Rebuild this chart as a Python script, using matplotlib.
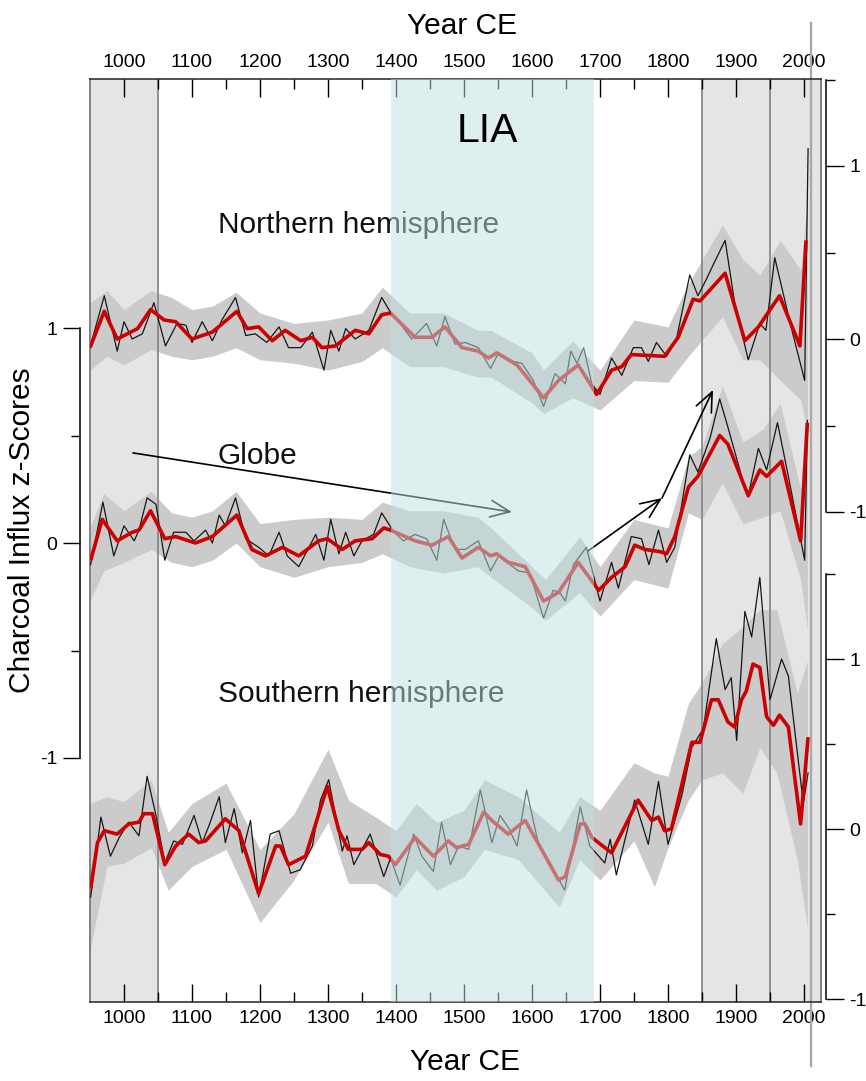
import matplotlib
matplotlib.use('Agg')
import matplotlib.pyplot as plt
import matplotlib.transforms as mtransforms

plt.rcParams['font.family'] = ['Liberation Sans', 'DejaVu Sans']
plt.rcParams['axes.unicode_minus'] = False

# ---------------- data ----------------
# Northern hemisphere (right upper axis, z-scores)
nh_red_years = [950, 971, 990, 1020, 1039, 1059, 1076, 1100, 1130, 1166, 1181, 1198, 1218, 1237, 1260, 1277,
                1291, 1311, 1340, 1360, 1379, 1392, 1428, 1453, 1472, 1497, 1521, 1536, 1548, 1578, 1617,
                1639, 1668, 1695, 1717, 1732, 1746, 1795, 1815, 1837, 1847, 1884, 1913, 1933, 1964, 1994, 2003]
nh_red = [-0.05, 0.16, 0.00, 0.06, 0.17, 0.11, 0.10, 0.00, 0.04, 0.16, 0.06, 0.07, -0.01, 0.05, -0.01, 0.01,
          -0.05, -0.04, 0.05, 0.03, 0.14, 0.15, 0.01, 0.01, 0.07, -0.05, -0.07, -0.11, -0.08, -0.15, -0.34,
          -0.24, -0.15, -0.32, -0.18, -0.16, -0.09, -0.10, 0.01, 0.23, 0.22, 0.38, -0.01, 0.07, 0.25, -0.04, 0.57]
nh_blk_years = [950, 971, 990, 1000, 1012, 1027, 1044, 1061, 1078, 1091, 1100, 1115, 1130, 1144, 1164, 1179,
                1193, 1210, 1228, 1242, 1260, 1277, 1294, 1304, 1316, 1326, 1340, 1360, 1379, 1394, 1406, 1423,
                1445, 1460, 1472, 1487, 1502, 1521, 1539, 1551, 1573, 1585, 1602, 1617, 1634, 1649, 1657, 1666,
                1676, 1688, 1700, 1717, 1732, 1749, 1761, 1771, 1783, 1798, 1813, 1832, 1844, 1857, 1869, 1884,
                1898, 1918, 1935, 1944, 1957, 1981, 2001, 2006]
nh_blk = [-0.05, 0.25, -0.07, 0.10, 0.00, 0.03, 0.21, -0.04, 0.09, 0.08, -0.02, 0.10, -0.01, 0.11, 0.24, 0.02,
          0.03, -0.02, 0.07, -0.05, -0.05, 0.04, -0.18, 0.05, -0.07, 0.06, 0.00, 0.05, 0.24, 0.14, 0.09, 0.00,
          0.09, -0.04, 0.13, -0.03, -0.02, -0.05, -0.17, -0.08, -0.13, -0.14, -0.24, -0.39, -0.20, -0.26, -0.07, -0.14,
          -0.05, -0.26, -0.32, -0.11, -0.21, -0.05, -0.05, -0.13, -0.02, -0.10, 0.01, 0.37, 0.25, 0.35, 0.45, 0.57,
          0.21, -0.12, 0.09, 0.05, 0.47, 0.07, -0.24, 1.10]
nh_env_years = [950, 975, 1000, 1040, 1070, 1100, 1130, 1165, 1200, 1250, 1300, 1350, 1380, 1420, 1470, 1520,
                1540, 1600, 1617, 1660, 1700, 1750, 1800, 1830, 1880, 1910, 1935, 1965, 1995, 2005]
nh_env_lo = [-0.18, -0.10, -0.15, -0.06, -0.10, -0.12, -0.10, -0.05, -0.12, -0.14, -0.18, -0.13, -0.05, -0.16,
             -0.16, -0.22, -0.22, -0.37, -0.43, -0.34, -0.41, -0.24, -0.25, -0.10, 0.13, -0.12, -0.12, -0.24,
             -0.35, -0.53]
nh_env_hi = [0.21, 0.28, 0.17, 0.28, 0.24, 0.17, 0.19, 0.27, 0.15, 0.09, 0.11, 0.15, 0.30, 0.15, 0.15, 0.05,
             0.05, -0.08, -0.18, -0.01, -0.18, 0.11, 0.07, 0.32, 0.66, 0.46, 0.37, 0.57, 0.40, 0.80]

# Globe (left axis, z-scores)
gl_red_years = [951, 968, 990, 1012, 1022, 1039, 1060, 1076, 1105, 1130, 1166, 1188, 1208, 1233, 1257, 1286,
                1299, 1321, 1340, 1365, 1382, 1392, 1428, 1453, 1477, 1497, 1521, 1539, 1548, 1565, 1590, 1617,
                1639, 1668, 1698, 1717, 1737, 1751, 1766, 1788, 1798, 1810, 1830, 1844, 1876, 1888, 1918, 1935,
                1945, 1967, 1995, 2005]
gl_red = [-0.08, 0.11, 0.01, 0.05, 0.06, 0.15, 0.02, 0.03, 0.00, 0.03, 0.13, -0.03, -0.06, -0.02, -0.06, 0.01,
          0.02, -0.03, 0.01, 0.02, 0.07, 0.06, 0.01, -0.01, 0.03, -0.07, -0.02, -0.06, -0.05, -0.09, -0.11, -0.27,
          -0.23, -0.09, -0.22, -0.16, -0.11, -0.01, -0.03, -0.04, -0.05, 0.03, 0.26, 0.31, 0.50, 0.46, 0.22, 0.34,
          0.31, 0.38, 0.01, 0.56]
gl_blk_years = [951, 969, 985, 1000, 1015, 1022, 1034, 1047, 1060, 1073, 1091, 1103, 1120, 1130, 1140, 1149,
                1164, 1179, 1198, 1213, 1228, 1240, 1257, 1282, 1294, 1304, 1316, 1326, 1338, 1350, 1367, 1379,
                1397, 1411, 1428, 1445, 1460, 1470, 1487, 1502, 1521, 1539, 1551, 1580, 1597, 1617, 1631, 1641,
                1649, 1661, 1680, 1700, 1717, 1727, 1746, 1761, 1772, 1786, 1798, 1810, 1832, 1844, 1862, 1876,
                1888, 1910, 1918, 1933, 1945, 1961, 1977, 2001, 2005]
gl_blk = [-0.10, 0.19, -0.06, 0.08, 0.01, 0.06, 0.21, 0.18, -0.08, 0.05, 0.05, 0.01, 0.06, 0.00, 0.13, 0.08,
          0.21, 0.02, -0.02, -0.06, 0.05, -0.06, -0.11, 0.04, -0.08, 0.11, -0.05, 0.05, -0.06, 0.01, 0.04, 0.14,
          0.05, 0.01, 0.04, 0.02, -0.08, 0.11, -0.03, -0.03, 0.01, -0.13, -0.06, -0.13, -0.14, -0.35, -0.22, -0.23,
          -0.27, -0.10, -0.02, -0.27, -0.09, -0.21, 0.03, 0.02, -0.10, 0.06, -0.09, -0.02, 0.41, 0.33, 0.49, 0.67,
          0.54, 0.29, 0.22, 0.44, 0.34, 0.56, 0.31, -0.08, 0.57]
gl_env_years = [950, 970, 1000, 1040, 1070, 1100, 1130, 1165, 1200, 1250, 1300, 1350, 1380, 1420, 1470, 1520,
                1540, 1600, 1620, 1670, 1700, 1750, 1800, 1830, 1850, 1880, 1910, 1940, 1965, 1995, 2005]
gl_env_lo = [-0.27, -0.13, -0.09, -0.03, -0.09, -0.11, -0.08, 0.00, -0.11, -0.16, -0.11, -0.09, -0.05, -0.11,
             -0.14, -0.11, -0.16, -0.30, -0.36, -0.23, -0.34, -0.17, -0.21, 0.14, 0.11, 0.28, 0.09, 0.12, 0.15,
             -0.17, -0.40]
gl_env_hi = [0.07, 0.23, 0.15, 0.24, 0.14, 0.12, 0.15, 0.24, 0.09, 0.11, 0.12, 0.11, 0.19, 0.15, 0.15, 0.12,
             0.07, -0.11, -0.17, 0.03, -0.11, 0.11, 0.07, 0.40, 0.45, 0.73, 0.47, 0.53, 0.65, 0.25, 0.75]

# Southern hemisphere (right lower axis, z-scores)
sh_red_years = [951, 961, 971, 990, 1007, 1022, 1029, 1042, 1060, 1076, 1095, 1110, 1120, 1149, 1169, 1198,
                1223, 1230, 1242, 1267, 1299, 1316, 1330, 1350, 1360, 1377, 1389, 1399, 1428, 1455, 1477, 1489,
                1507, 1529, 1541, 1565, 1590, 1614, 1639, 1649, 1671, 1678, 1688, 1717, 1756, 1776, 1786, 1795,
                1805, 1835, 1847, 1864, 1874, 1888, 1898, 1908, 1915, 1925, 1935, 1945, 1955, 1964, 1977, 1995, 2006]
sh_red = [-0.35, -0.08, -0.01, -0.03, 0.03, 0.04, 0.09, 0.09, -0.21, -0.10, -0.03, -0.08, -0.07, 0.06, -0.01, -0.38,
          -0.10, -0.10, -0.21, -0.16, 0.25, -0.01, -0.12, -0.12, -0.08, -0.15, -0.16, -0.21, -0.05, -0.16, -0.07, -0.11,
          -0.09, 0.10, 0.05, -0.03, 0.05, -0.12, -0.30, -0.28, 0.03, 0.03, -0.05, -0.14, 0.17, 0.05, 0.07, -0.01,
          0.00, 0.51, 0.51, 0.76, 0.76, 0.63, 0.60, 0.76, 0.81, 0.97, 0.95, 0.66, 0.61, 0.67, 0.60, 0.03, 0.54]
sh_blk_years = [951, 966, 980, 993, 1007, 1022, 1034, 1047, 1060, 1073, 1086, 1103, 1115, 1125, 1140, 1149,
                1162, 1174, 1186, 1198, 1215, 1228, 1245, 1259, 1277, 1289, 1301, 1321, 1328, 1338, 1362, 1382,
                1392, 1406, 1426, 1438, 1455, 1467, 1480, 1492, 1507, 1524, 1541, 1553, 1565, 1578, 1592, 1609,
                1629, 1648, 1671, 1685, 1707, 1715, 1724, 1751, 1771, 1786, 1800, 1820, 1835, 1852, 1871, 1884,
                1893, 1901, 1913, 1923, 1935, 1950, 1967, 1977, 1999, 2006]
sh_blk = [-0.40, 0.07, -0.16, -0.05, 0.04, -0.04, 0.31, 0.08, -0.20, -0.07, -0.09, 0.08, -0.08, 0.02, 0.19, -0.08,
          0.12, -0.14, 0.05, -0.40, -0.03, -0.01, -0.26, -0.24, -0.10, 0.17, 0.29, -0.13, -0.04, -0.21, -0.03, -0.28,
          -0.17, -0.33, -0.03, -0.16, -0.25, 0.04, -0.21, -0.10, -0.12, 0.23, -0.08, 0.08, 0.01, -0.10, 0.23, -0.08,
          -0.22, -0.36, 0.13, -0.10, -0.20, -0.06, -0.27, 0.17, -0.09, 0.28, -0.09, 0.19, 0.48, 0.59, 1.12, 0.82,
          0.89, 0.52, 1.28, 1.13, 1.48, 0.76, 1.00, 0.90, 0.15, 0.33]
sh_env_years = [950, 975, 1000, 1040, 1065, 1100, 1150, 1200, 1250, 1300, 1330, 1370, 1400, 1430, 1460, 1500,
                1530, 1580, 1640, 1670, 1700, 1750, 1780, 1800, 1830, 1850, 1880, 1910, 1935, 1960, 1990, 2005]
sh_env_lo = [-0.71, -0.22, -0.20, -0.11, -0.36, -0.22, -0.12, -0.55, -0.30, 0.04, -0.32, -0.32, -0.40, -0.24,
             -0.36, -0.28, -0.12, -0.18, -0.46, -0.18, -0.30, -0.07, -0.34, -0.11, 0.17, 0.29, 0.33, 0.21, 0.48,
             0.33, -0.18, -0.58]
sh_env_hi = [0.15, 0.19, 0.16, 0.29, -0.02, 0.15, 0.27, -0.12, 0.09, 0.47, 0.17, 0.07, -0.01, 0.15, 0.04, 0.11,
             0.29, 0.19, -0.02, 0.19, 0.11, 0.39, 0.33, 0.31, 0.74, 0.86, 1.09, 1.19, 1.29, 1.29, 0.80, 0.99]

# periods
early_band = (950, 1050)
lia_band = (1392, 1691)
modern_band = (1850, 2025)
period_lines = [1050, 1850, 1950]
plume_year = 2011

year_ticks = list(range(1000, 2001, 100))
year_minor = list(range(1050, 2000, 100))

# ---------------- layout ----------------
W, H = 866, 1081
fig = plt.figure(figsize=(W / 100, H / 100), dpi=100)
Lp, Rp, Tp, Bp = 90, 821, 79, 1002
ax = fig.add_axes([Lp / W, 1 - Bp / H, (Rp - Lp) / W, (Bp - Tp) / H])
ax.set_xlim(950, 2025)
ax.set_ylim((543 - Bp) / 215, (543 - Tp) / 215)
ax_nh = ax.twinx()
ax_nh.set_ylim((339 - Bp) / 173, (339 - Tp) / 173)
ax_sh = ax.twinx()
ax_sh.set_ylim((829 - Bp) / 170, (829 - Tp) / 170)

# backgrounds
ax.axvspan(*early_band, color='#e5e5e5', lw=0, zorder=0)
ax.axvspan(*modern_band, color='#e5e5e5', lw=0, zorder=0)
for yr in period_lines:
    ax.axvline(yr, color='#8a8a8a', lw=1.3, zorder=1.5)
ax.axvline(950, color='#7a7a7a', lw=1.3, zorder=1.5, clip_on=False)
ax.axvline(2025, color='#7a7a7a', lw=1.3, zorder=1.5, clip_on=False)
blend = mtransforms.blended_transform_factory(ax.transData, ax.transAxes)
ax.plot([plume_year, plume_year], [(Bp - 23) / (Bp - Tp), (Bp - 1066) / (Bp - Tp)],
        color='#a9a9a9', lw=1.7, transform=blend, clip_on=False, zorder=2)


def draw(target, ey, lo, hi, by, bv, ry, rv):
    tr = target.transData
    ax.fill_between(ey, lo, hi, color='#cbcbcb', lw=0, transform=tr, zorder=1)
    ax.plot(by, bv, color='#161616', lw=0.9, transform=tr, zorder=3)
    ax.plot(ry, rv, color='#cc0000', lw=2.6, transform=tr, zorder=4,
            solid_joinstyle='round', solid_capstyle='butt')


draw(ax_nh, nh_env_years, nh_env_lo, nh_env_hi, nh_blk_years, nh_blk, nh_red_years, nh_red)
draw(ax, gl_env_years, gl_env_lo, gl_env_hi, gl_blk_years, gl_blk, gl_red_years, gl_red)
draw(ax_sh, sh_env_years, sh_env_lo, sh_env_hi, sh_blk_years, sh_blk, sh_red_years, sh_red)

# LIA overlay
ax.axvspan(*lia_band, color=(0.756, 0.877, 0.885), alpha=0.51, lw=0, zorder=5)

# labels inside
tkw = dict(fontsize=21.5, ha='left', va='baseline', zorder=2, color='#111111')
ax.text(1138, 1.442, 'Northern hemisphere', **tkw)
ax.text(1138, 0.367, 'Globe', **tkw)
ax.text(1138, -0.740, 'Southern hemisphere', **tkw)
ax.text(1534, 1.865, 'LIA', fontsize=29.5, ha='center', va='baseline', zorder=6)

akw = dict(arrowstyle='->,head_length=1.4,head_width=0.6', color='black', lw=1.2,
           shrinkA=0, shrinkB=0, mutation_scale=10)
ax.annotate('', xy=(1570.6, 0.144), xytext=(1013.2, 0.419), arrowprops=akw, zorder=2.5)
ax.annotate('', xy=(1791.2, 0.209), xytext=(1682.4, -0.037), arrowprops=akw, zorder=2.5)
ax.annotate('', xy=(1866.2, 0.712), xytext=(1791.2, 0.209), arrowprops=akw, zorder=2.5)

# ---------------- axes styling ----------------
for s in ['top', 'bottom']:
    ax.spines[s].set_linewidth(1.1)
    ax.spines[s].set_color('#222222')
ax.spines['right'].set_visible(False)
ax.spines['left'].set_position(('outward', 7.2))
ax.spines['left'].set_bounds(-1, 1)
ax.spines['left'].set_linewidth(1.1)

ax.set_xticks(year_ticks, [str(y) for y in year_ticks])
ax.set_xticks(year_minor, minor=True)
ax.tick_params(axis='x', which='both', direction='in', top=True, bottom=True,
               labeltop=True, labelbottom=True, width=1.0, pad=5.5, labelsize=14)
ax.tick_params(axis='x', which='major', length=13)
ax.tick_params(axis='x', which='minor', length=7.2)

ax.set_yticks([-1, 0, 1], ['-1', '0', '1'])
ax.set_yticks([-0.5, 0.5], minor=True)
ax.tick_params(axis='y', which='both', direction='out', left=True, right=False, width=1.0,
               pad=4.3, labelsize=14)
ax.tick_params(axis='y', which='major', length=12.2)
ax.tick_params(axis='y', which='minor', length=6.5)

for tax in (ax_nh, ax_sh):
    for s in ['top', 'bottom', 'left']:
        tax.spines[s].set_visible(False)
    tax.spines['right'].set_position(('outward', 3.6))
    tax.spines['right'].set_bounds(-1, 1.5)
    tax.spines['right'].set_linewidth(1.1)
    tax.set_yticks([-1, 0, 1], ['-1', '0', '1'])
    tax.set_yticks([-0.5, 0.5, 1.5], minor=True)
    tax.tick_params(axis='y', which='both', direction='out', right=True, left=False, width=1.0,
                    pad=3.6, labelsize=14)
    tax.tick_params(axis='y', which='major', length=13)
    tax.tick_params(axis='y', which='minor', length=6.5)

fig.text(462 / W, 1 - 26 / H, 'Year CE', fontsize=21.5, ha='center', va='center')
fig.text(465 / W, 1 - 1062 / H, 'Year CE', fontsize=21.5, ha='center', va='center')
fig.text(22 / W, 1 - 530 / H, 'Charcoal Influx z-Scores', fontsize=21.5, rotation=90,
         ha='center', va='center')

fig.savefig('out.png', dpi=100)
